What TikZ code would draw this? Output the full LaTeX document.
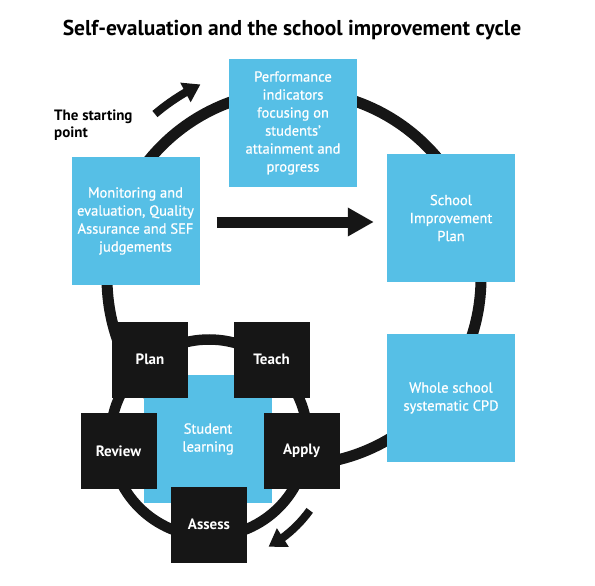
\documentclass[tikz,border=0pt]{standalone}
\usepackage{fontspec}
\setmainfont{PT Sans}
\newfontfamily\medfont[FakeBold=0.8]{PT Sans}
\usetikzlibrary{arrows.meta,bending,calc}
\definecolor{sblue}{HTML}{56BFE6}
\definecolor{sblack}{HTML}{161616}
\begin{document}
\begin{tikzpicture}[x=1pt,y=-1pt,
  bluebox/.style={fill=sblue, minimum width=128pt, minimum height=128pt, inner sep=0pt,
    text=white, align=center, font=\medfont\fontsize{14.5}{18}\selectfont},
  blackbox/.style={fill=sblack, minimum width=76pt, minimum height=76pt, inner sep=0pt,
    text=white, font=\bfseries\fontsize{15}{18}\selectfont},
  ringline/.style={line width=11pt, draw=sblack},
  curvearrow/.style={line width=8pt, draw=sblack, -{Triangle[width=21pt,length=17pt]}},
  straightarrow/.style={line width=11pt, draw=sblack, -{Triangle[width=27pt,length=26pt]}},
]
\useasboundingbox (0,0) rectangle (595,586);
\coordinate (bigc) at (294,278);
\coordinate (ringc) at (209,438);
\coordinate (ay) at (0,222);

\draw[ringline] (bigc) circle[radius=187];
\draw[ringline, line width=10.5pt] (ringc) circle[radius=98.5];

\draw[curvearrow] ($(bigc)+(-130.3:215)$) arc[start angle=-130.3, end angle=-115.8, radius=215];
\draw[curvearrow] ($(ringc)+(35.7:124)$) arc[start angle=35.7, end angle=61.3, radius=124];

\node[font=\bfseries\fontsize{21.5}{26}\selectfont] (title) at (292,30) {Self-evaluation and the school improvement cycle};
\node[anchor=north west, align=left, inner sep=0pt, font=\bfseries\fontsize{15}{17}\selectfont] (start) at (54,110) {The starting\\point};

\node[bluebox] (perf) at (293,123) {Performance\\indicators\\focusing on\\students’\\attainment and\\progress};
\node[bluebox] (sip) at (451,218) {School\\Improvement\\Plan};
\node[bluebox] (mon) at (135.5,221) {Monitoring and\\evaluation, Quality\\Assurance and SEF\\judgements};
\node[bluebox] (cpd) at (451,398) {Whole school\\systematic CPD};
\node[bluebox] (stud) at (208,439) {Student\\learning};

\node[blackbox] (plan) at (150,359.5) {Plan};
\node[blackbox] (teach) at (271.5,359.5) {Teach};
\node[blackbox] (review) at (118.5,451) {Review};
\node[blackbox] (apply) at (301.5,451) {Apply};
\node[blackbox] (assess) at (209,524.5) {Assess};

\draw[straightarrow, shorten <=17pt, shorten >=13pt] (mon.east |- ay) -- (sip.west |- ay);
\end{tikzpicture}
\end{document}
